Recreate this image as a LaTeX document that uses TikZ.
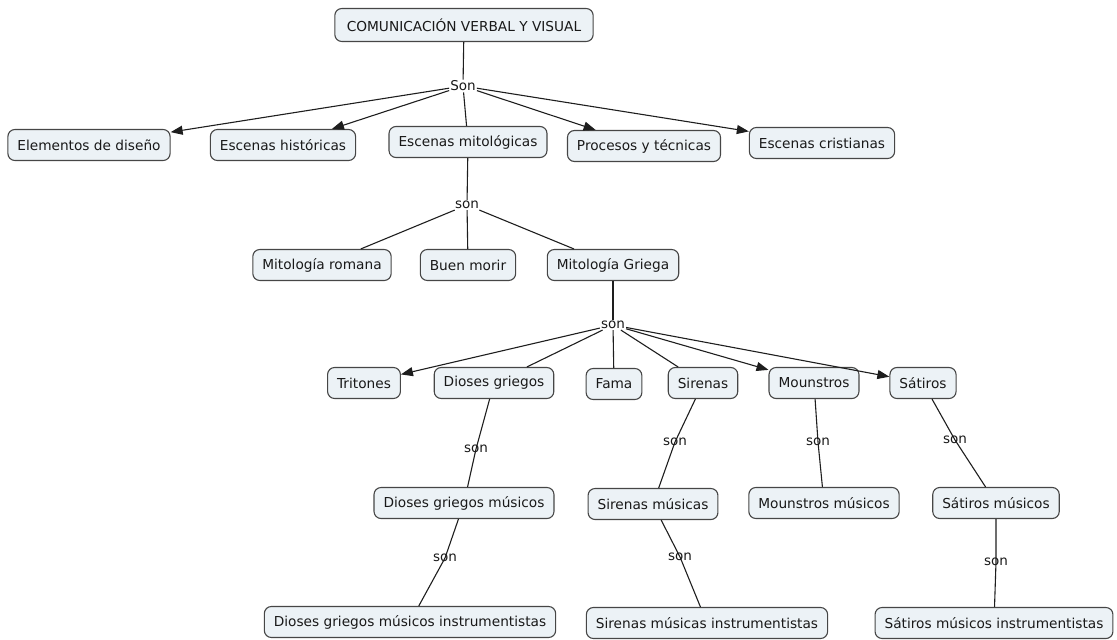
\documentclass[tikz,border=0pt]{standalone}
\usepackage{fontspec}
\setmainfont{DejaVu Sans}
\usetikzlibrary{arrows.meta}
\definecolor{boxfill}{RGB}{236,242,246}
\definecolor{boxline}{RGB}{70,70,70}
\definecolor{linkc}{RGB}{30,30,30}
\definecolor{txtc}{RGB}{25,25,25}
\begin{document}
\begin{tikzpicture}[x=1pt,y=-1pt,
  concept/.style={draw=boxline,line width=1.1pt,fill=boxfill,rounded corners=7pt,
    minimum height=31pt,inner xsep=9.5pt,inner ysep=3pt,text=txtc,
    font=\fontsize{13.7}{15}\selectfont},
  lab/.style={inner sep=1pt,text=txtc,font=\fontsize{13.5}{15}\selectfont},
  link/.style={draw=linkc,line width=1.1pt},
  arr/.style={link,-{Triangle[length=12pt,width=9pt]}}]
\useasboundingbox (0,0) rectangle (1117,640);
% concepts
\node[concept,inner xsep=12pt,minimum height=33pt] (top) at (464,25) {COMUNICACIÓN VERBAL Y VISUAL};
\node[concept] (ed) at (89,145) {Elementos de diseño};
\node[concept] (eh) at (283,145) {Escenas históricas};
\node[concept] (em) at (468,142) {Escenas mitológicas};
\node[concept] (pt) at (644,146) {Procesos y técnicas};
\node[concept] (ec) at (822,143) {Escenas cristianas};
\node[concept] (mr) at (322,265) {Mitología romana};
\node[concept] (bm) at (468,265) {Buen morir};
\node[concept] (mg) at (613,265) {Mitología Griega};
\node[concept] (tr) at (364,383) {Tritones};
\node[concept] (dg) at (494,383) {Dioses griegos};
\node[concept] (fa) at (614,384) {Fama};
\node[concept] (si) at (703,383) {Sirenas};
\node[concept] (mo) at (814,383) {Mounstros};
\node[concept] (sa) at (923,383) {Sátiros};
\node[concept] (dgm) at (464,503) {Dioses griegos músicos};
\node[concept] (sim) at (653,504) {Sirenas músicas};
\node[concept] (mom) at (824,503) {Mounstros músicos};
\node[concept] (sam) at (996,503) {Sátiros músicos};
\node[concept] (dgmi) at (410,622) {Dioses griegos músicos instrumentistas};
\node[concept] (simi) at (707,623) {Sirenas músicas instrumentistas};
\node[concept] (sami) at (994,623) {Sátiros músicos instrumentistas};
% link labels
\node[lab] (l1) at (463,86) {Son};
\node[lab] (l2) at (467,205) {son};
\node[lab] (l3) at (613,325) {son};
\node[lab] (l4) at (476,449) {son};
\node[lab] (l5) at (445,558) {son};
\node[lab] (l6) at (675,442) {son};
\node[lab] (l7) at (680,557) {son};
\node[lab] (l8) at (818,442) {son};
\node[lab] (l9) at (955,440) {son};
\node[lab] (l10) at (996,562) {son};
% connectors
\draw[link] (top) -- (l1);
\draw[arr] (l1) -- (ed);
\draw[arr] (l1) -- (eh);
\draw[link] (l1) -- (em);
\draw[arr] (l1) -- (pt);
\draw[arr] (l1) -- (ec);
\draw[link] (em) -- (l2);
\draw[link] (l2) -- (mr);
\draw[link] (l2) -- (bm);
\draw[link] (l2) -- (mg);
\draw[link] (mg) -- (l3);
\draw[arr] (l3) -- (tr);
\draw[link] (l3) -- (dg);
\draw[link] (l3) -- (fa);
\draw[link] (l3) -- (si);
\draw[arr] (l3) -- (mo);
\draw[arr] (l3) -- (sa);
\draw[link] (dg) -- (l4.center) -- (dgm);
\draw[link] (dgm) -- (l5.center) -- (dgmi);
\draw[link] (si) -- (l6.center) -- (sim);
\draw[link] (sim) -- (l7.center) -- (simi);
\draw[link] (mo) -- (l8.center) -- (mom);
\draw[link] (sa) -- (l9.center) -- (sam);
\draw[link] (sam) -- (l10.center) -- (sami);
\end{tikzpicture}
\end{document}
